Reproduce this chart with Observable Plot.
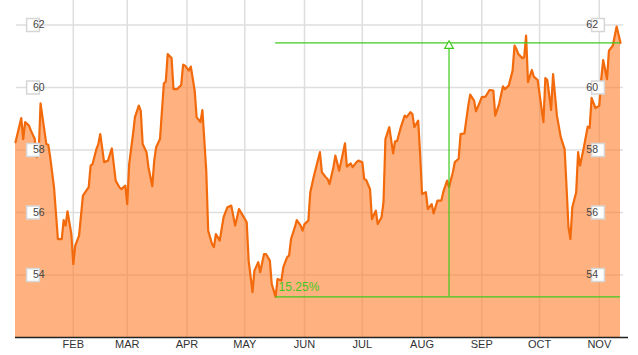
<!DOCTYPE html>
<html><head><meta charset="utf-8">
<script src="https://cdn.jsdelivr.net/npm/d3@7"></script>
<script src="https://cdn.jsdelivr.net/npm/@observablehq/plot@0.6"></script>
<style>
html,body{margin:0;padding:0;background:#fff;}
#chart svg{display:block;}
</style>
</head><body><div id="chart"></div>
<script>
const year = 2014;
const dates = [
"01-02","01-05","01-06","01-07","01-09","01-10","01-12","01-13","01-14","01-15","01-16","01-18","01-19","01-20","01-22","01-24","01-26","01-27","01-28","01-29","01-31",
"02-01","02-02","02-04","02-06","02-09","02-10","02-11","02-13","02-14","02-15","02-17","02-19","02-21","02-23","02-25","02-26","02-28",
"03-01","03-02","03-04","03-05","03-07","03-08","03-09","03-11","03-12","03-14","03-15","03-16","03-18","03-20","03-21","03-22","03-24","03-25","03-27","03-29","03-30","03-31",
"04-02","04-03","04-05","04-06","04-08","04-09","04-11","04-12","04-14","04-15","04-16","04-18","04-20","04-22","04-24","04-26","04-28","04-30",
"05-02","05-03","05-05","05-06","05-08","05-09","05-11","05-12","05-14","05-15","05-17","05-18","05-20","05-21","05-23","05-24","05-25","05-27","05-28","05-30","05-31",
"06-01","06-03","06-04","06-06","06-09","06-10","06-12","06-13","06-14","06-16","06-17","06-19","06-22","06-23","06-25","06-26","06-28","06-29",
"07-01","07-02","07-03","07-05","07-06","07-08","07-09","07-11","07-12","07-13","07-15","07-17","07-18","07-19","07-21","07-23","07-24","07-26","07-27","07-28","07-30","07-31",
"08-01","08-03","08-04","08-06","08-07","08-09","08-11","08-12","08-14","08-15","08-17","08-18","08-20","08-21","08-23","08-25","08-26","08-28","08-29","08-31",
"09-01","09-03","09-05","09-07","09-08","09-10","09-12","09-13","09-15","09-17","09-18","09-19","09-20","09-22","09-23","09-24","09-25","09-27","09-28","09-30",
"10-01","10-03","10-04","10-05","10-07","10-08","10-10","10-12","10-14","10-15","10-16","10-17","10-18","10-20","10-21","10-22","10-24","10-26","10-27","10-28","10-30",
"11-01","11-02","11-03","11-05","11-06","11-08","11-10","11-12"
];
const prices = [
58.25,59.02,58.35,58.89,58.78,58.62,58.35,57.77,57.82,59.49,59.05,58.19,58.17,57.77,56.80,55.15,55.15,55.76,55.58,56.04,55.31,
54.35,54.94,55.26,56.54,56.81,57.50,57.55,58.03,58.19,58.51,57.61,57.66,58.05,57.02,56.80,56.75,56.86,
56.27,57.55,58.51,59.05,59.42,59.26,58.19,57.93,57.45,56.84,57.66,58.09,58.35,60.13,60.19,61.07,60.94,59.95,59.95,60.08,60.73,60.70,
60.54,60.67,59.90,59.05,58.89,59.28,57.34,55.42,54.99,54.89,55.31,55.10,55.85,56.17,56.22,55.58,56.11,55.90,
55.69,54.46,53.45,54.14,54.41,54.09,54.67,54.67,54.46,53.71,53.30,53.87,53.82,54.25,54.57,54.62,55.15,55.53,55.76,55.58,55.42,
55.63,55.74,56.65,57.20,57.93,57.29,57.13,57.07,56.91,57.45,57.82,57.34,58.21,57.47,57.57,57.45,57.61,57.66,
57.61,57.07,57.04,56.75,55.79,56.06,55.63,55.85,56.33,58.35,58.73,57.89,58.28,58.28,58.73,59.10,59.05,59.21,59.15,58.73,58.94,57.87,
56.59,56.65,56.11,56.27,55.97,56.38,56.38,56.65,57.02,56.81,57.29,57.61,57.72,58.51,58.53,59.42,59.77,59.58,59.24,59.53,
59.69,59.71,59.92,59.90,59.10,59.47,60.04,59.95,60.06,60.54,61.34,61.23,61.07,60.94,60.96,61.66,60.17,60.56,60.35,60.24,
59.79,58.89,60.30,60.24,59.28,60.43,59.10,58.41,58.03,56.81,55.53,55.15,56.17,56.65,57.93,57.50,58.09,58.75,58.71,59.67,59.34,
59.42,60.27,60.88,60.27,61.18,61.34,61.95,61.43
];
const yTicks = [54, 56, 58, 60, 62];
const monthTicks = ["02-01","03-01","04-01","05-01","06-01","07-01","08-01","09-01","10-01","11-01"];
const lowPoint = {date: "05-17", value: 53.30};
const endPoint = {date: "11-12", value: 61.43};
const markerDate = "08-15";
const changeLabel = "15.25%";
const yDomain = [52, 62.784];

const parse = s => d3.utcParse("%Y-%m-%d")(`${year}-${s}`);
const data = dates.map((d, i) => ({date: parse(d), price: prices[i]}));
const ticks = monthTicks.map(parse);
const low = {date: parse(lowPoint.date), value: lowPoint.value};
const end = {date: parse(endPoint.date), value: endPoint.value};
const mark = parse(markerDate);
const green = "#3fc81e";

const chart = Plot.plot({
  width: 638,
  height: 355,
  marginLeft: 15,
  marginRight: 18,
  marginTop: 0,
  marginBottom: 18,
  style: {fontFamily: "'Liberation Sans', Arial, sans-serif", background: "#fff", overflow: "visible"},
  x: {type: "utc", domain: d3.extent(data, d => d.date), axis: null},
  y: {domain: yDomain, axis: null},
  marks: [
    Plot.ruleX(ticks, {stroke: "#dedede", strokeWidth: 1.5}),
    Plot.ruleY(yTicks, {stroke: "#dedede", strokeWidth: 1.5, insetLeft: 1, insetRight: -3}),
    Plot.areaY(data, {x: "date", y1: yDomain[0], y2: "price", fill: "#ff7f2a", fillOpacity: 0.6}),
    Plot.lineY(data, {x: "date", y: "price", stroke: "#f26a0c", strokeWidth: 2.2}),
    Plot.ruleY([yDomain[0]], {stroke: "#222", strokeWidth: 1.5, insetRight: -8}),
    Plot.ruleY([low, end], {y: "value", x1: low.date, x2: end.date, stroke: green, strokeWidth: 1.2}),
    Plot.ruleX([mark], {x: d => d, y1: low.value, y2: end.value, stroke: green, strokeWidth: 1.2}),
    Plot.dot([mark], {x: d => d, y: end.value, dy: 3, symbol: "triangle", r: 3.2, fill: "#fff", stroke: green, strokeWidth: 1.2}),
    Plot.text([changeLabel], {x: low.date, y: low.value, text: d => d, dx: 3, dy: -10, textAnchor: "start", fill: green, fontSize: 12}),
    Plot.dot(yTicks, {y: d => d, frameAnchor: "left", dx: 17.5, symbol: "square", r: 7.2, fill: "#fff", stroke: "#d6d6d6"}),
    Plot.text(yTicks, {y: d => d, frameAnchor: "left", dx: 17.5, text: d => d, fill: "#444", fontSize: 10.5}),
    Plot.dot(yTicks, {y: d => d, frameAnchor: "right", dx: -22.5, symbol: "square", r: 7.2, fill: "#fff", stroke: "#d6d6d6"}),
    Plot.text(yTicks, {y: d => d, frameAnchor: "right", dx: -22.5, text: d => d, fill: "#444", fontSize: 10.5}),
    Plot.axisX({ticks: ticks, tickFormat: d => d3.utcFormat("%b")(d).toUpperCase(), tickSize: 0, tickPadding: 3, fontSize: 11, fill: "#333", label: null})
  ]
});
document.getElementById("chart").appendChild(chart);
</script>
</body></html>
